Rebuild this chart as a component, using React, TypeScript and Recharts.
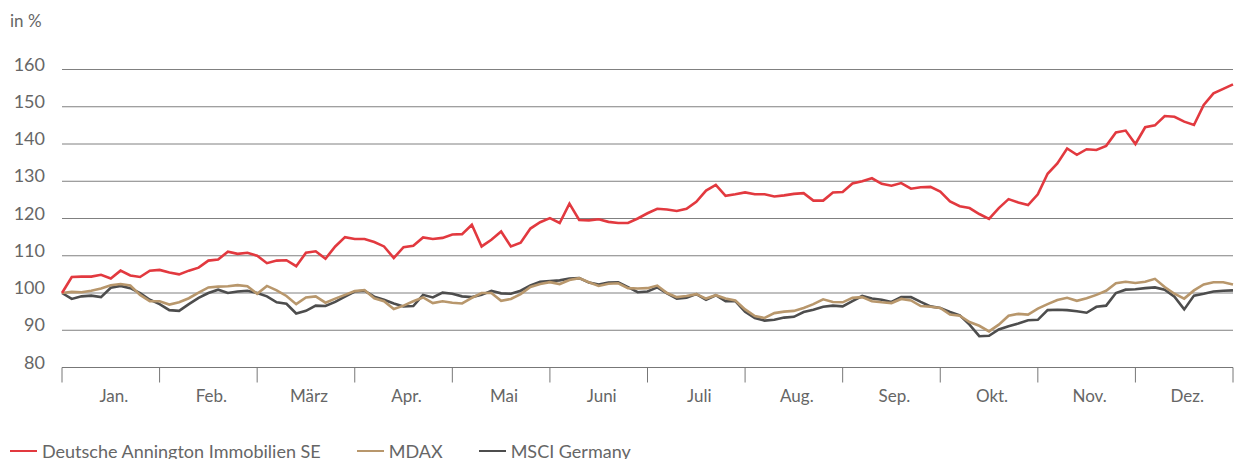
import React from 'react';
import { LineChart, Line, XAxis, YAxis, CartesianGrid } from 'recharts';

// months shown between the tick marks
const MONTHS = ['Jan.', 'Feb.', 'März', 'Apr.', 'Mai', 'Juni', 'Juli', 'Aug.', 'Sep.', 'Okt.', 'Nov.', 'Dez.'];
const Y_TICKS = [80, 90, 100, 110, 120, 130, 140, 150, 160];

// 10 samples per month, index 0 = start of year (indexed to 100)
const DAIG = [
  100, 104.3, 104.4, 104.4, 104.9, 103.9, 106, 104.7, 104.3, 106,
  106.2, 105.5, 105, 106, 106.8, 108.7, 109, 111.1, 110.5, 110.8,
  110, 108, 108.7, 108.8, 107.2, 110.8, 111.2, 109.2, 112.5, 115,
  114.5, 114.5, 113.7, 112.5, 109.4, 112.3, 112.7, 114.9, 114.5, 114.8,
  115.7, 115.8, 118.3, 112.5, 114.3, 116.5, 112.5, 113.5, 117.3, 119,
  120.1, 118.8, 124, 119.6, 119.5, 119.8, 119.1, 118.8, 118.8, 120,
  121.4, 122.6, 122.4, 122, 122.6, 124.5, 127.5, 129, 126.1, 126.5,
  127, 126.5, 126.5, 125.9, 126.2, 126.6, 126.8, 124.8, 124.8, 127,
  127.1, 129.4, 130, 130.8, 129.3, 128.8, 129.5, 128, 128.4, 128.5,
  127.2, 124.6, 123.3, 122.8, 121.2, 119.9, 122.8, 125.2, 124.3, 123.6,
  126.5, 132, 134.8, 138.8, 137.1, 138.6, 138.4, 139.5, 143.1, 143.6,
  140, 144.5, 145, 147.5, 147.3, 146, 145.1, 150.5, 153.6, 154.8,
  156,
];

const MDAX = [
  100, 100.3, 100.2, 100.6, 101.2, 102.1, 102.4, 102, 99.5, 97.8,
  97.8, 96.9, 97.5, 98.6, 100.1, 101.5, 101.7, 101.8, 102.1, 101.8,
  99.8, 101.9, 100.7, 99.2, 97, 98.8, 99.1, 97.4, 98.5, 99.5,
  100.5, 100.8, 98.6, 97.8, 95.7, 96.6, 97.8, 98.8, 97.3, 97.8,
  97.4, 97.2, 98.7, 100, 100, 97.9, 98.4, 99.7, 101.6, 102.4,
  102.9, 102.4, 103.5, 104, 102.9, 101.9, 102.5, 102.6, 101.3, 101.2,
  101.3, 102, 100, 98.9, 99.2, 99.7, 98.5, 99.4, 98.5, 98,
  95.6, 93.8, 93.3, 94.6, 95, 95.2, 96, 97, 98.3, 97.6,
  97.5, 98.7, 98.9, 97.8, 97.5, 97.3, 98.4, 98, 96.5, 96.3,
  96, 94.2, 93.9, 92.2, 91.2, 89.7, 91.5, 93.9, 94.4, 94.2,
  95.8, 97, 98.1, 98.7, 97.9, 98.6, 99.5, 100.6, 102.6, 103,
  102.7, 103, 103.8, 101.6, 99.8, 98.5, 100.7, 102.3, 102.9, 102.9,
  102.3,
];

const MSCI = [
  100, 98.4, 99.1, 99.3, 98.9, 101.4, 101.9, 101.3, 100, 98.2,
  97, 95.4, 95.2, 97, 98.7, 100, 100.9, 100, 100.4, 100.6,
  100, 99.1, 97.5, 97.1, 94.5, 95.2, 96.6, 96.5, 97.6, 99,
  100.4, 100.6, 99, 98.2, 97.2, 96.4, 96.5, 99.5, 98.8, 100.1,
  99.8, 99.1, 98.9, 99.5, 100.6, 99.9, 99.8, 100.6, 102, 103,
  103.2, 103.4, 103.9, 104, 102.8, 102.3, 102.8, 102.9, 101.6, 100.2,
  100.4, 101.5, 99.9, 98.5, 98.7, 99.7, 98.2, 99.4, 97.8, 97.8,
  95, 93.3, 92.6, 92.8, 93.4, 93.6, 94.9, 95.5, 96.3, 96.6,
  96.4, 97.8, 99.2, 98.5, 98.2, 97.6, 98.9, 98.9, 97.6, 96.4,
  96, 94.9, 94, 91.5, 88.4, 88.5, 90.2, 91.1, 91.8, 92.7,
  92.8, 95.4, 95.5, 95.4, 95.1, 94.7, 96.3, 96.6, 100, 100.9,
  101, 101.3, 101.5, 100.9, 99, 95.6, 99.3, 99.8, 100.4, 100.6,
  100.7,
];

const SERIES = [
  { key: 'daig', name: 'Deutsche Annington Immobilien SE', color: '#e2393f', values: DAIG },
  { key: 'mdax', name: 'MDAX', color: '#b8976c', values: MDAX },
  { key: 'msci', name: 'MSCI Germany', color: '#4d4d4d', values: MSCI },
];

const data = DAIG.map((_, i) => ({
  i,
  daig: DAIG[i],
  mdax: MDAX[i],
  msci: MSCI[i],
}));

// boundaries at multiples of 10, month names at the midpoints
const X_TICKS = Array.from({ length: 25 }, (_, k) => k * 5);

const FONT = 'Lato, "Open Sans", sans-serif';
const TEXT = '#666';

const MonthTick = (props: any) => {
  const { x, y, payload } = props;
  const v = payload.value;
  if (v % 10 === 0) {
    return <line x1={x} x2={x} y1={y} y2={y + 15} stroke="#777" strokeWidth={1} />;
  }
  return (
    <text x={x + 3} y={y + 34} textAnchor="middle" fill={TEXT} fontSize={17} fontFamily={FONT}>
      {MONTHS[(v - 5) / 10]}
    </text>
  );
};

const ValueTick = (props: any) => {
  const { x, y, payload } = props;
  return (
    <text x={x} y={y + 1} textAnchor="end" fill={TEXT} fontSize={18} fontFamily={FONT}>
      {payload.value}
    </text>
  );
};

export default function App() {
  return (
    <div style={{ position: 'absolute', left: 0, top: 0, width: 1236, height: 459, background: '#fff', fontFamily: FONT }}>
      <div style={{ position: 'absolute', left: 10, top: 10, fontSize: 17, color: TEXT }}>in %</div>
      <LineChart width={1236} height={420} data={data} margin={{ top: 69.5, right: 3, left: 0, bottom: 0 }}>
        <CartesianGrid vertical={false} stroke="#808080" strokeWidth={1} />
        <XAxis
          dataKey="i"
          type="number"
          domain={[0, 120]}
          ticks={X_TICKS}
          interval={0}
          height={52.5}
          tickSize={0}
          tickMargin={0}
          tickLine={false}
          axisLine={{ stroke: '#777' }}
          tick={<MonthTick />}
        />
        <YAxis
          type="number"
          domain={[80, 160]}
          ticks={Y_TICKS}
          interval={0}
          width={62}
          tickSize={0}
          tickMargin={17}
          tickLine={false}
          axisLine={false}
          tick={<ValueTick />}
        />
        {SERIES.slice().reverse().map(s => (
          <Line
            key={s.key}
            type="linear"
            dataKey={s.key}
            stroke={s.color}
            strokeWidth={2.6}
            dot={false}
            isAnimationActive={false}
          />
        ))}
      </LineChart>
      <div style={{ position: 'absolute', left: 10, top: 440, display: 'flex', alignItems: 'center', fontSize: 18, color: TEXT, whiteSpace: 'nowrap' }}>
        {SERIES.map(s => (
          <div key={s.key} style={{ display: 'flex', alignItems: 'center', marginRight: 36 }}>
            <div style={{ width: 27, height: 2.5, background: s.color, marginRight: 5 }} />
            <span>{s.name}</span>
          </div>
        ))}
      </div>
    </div>
  );
}
